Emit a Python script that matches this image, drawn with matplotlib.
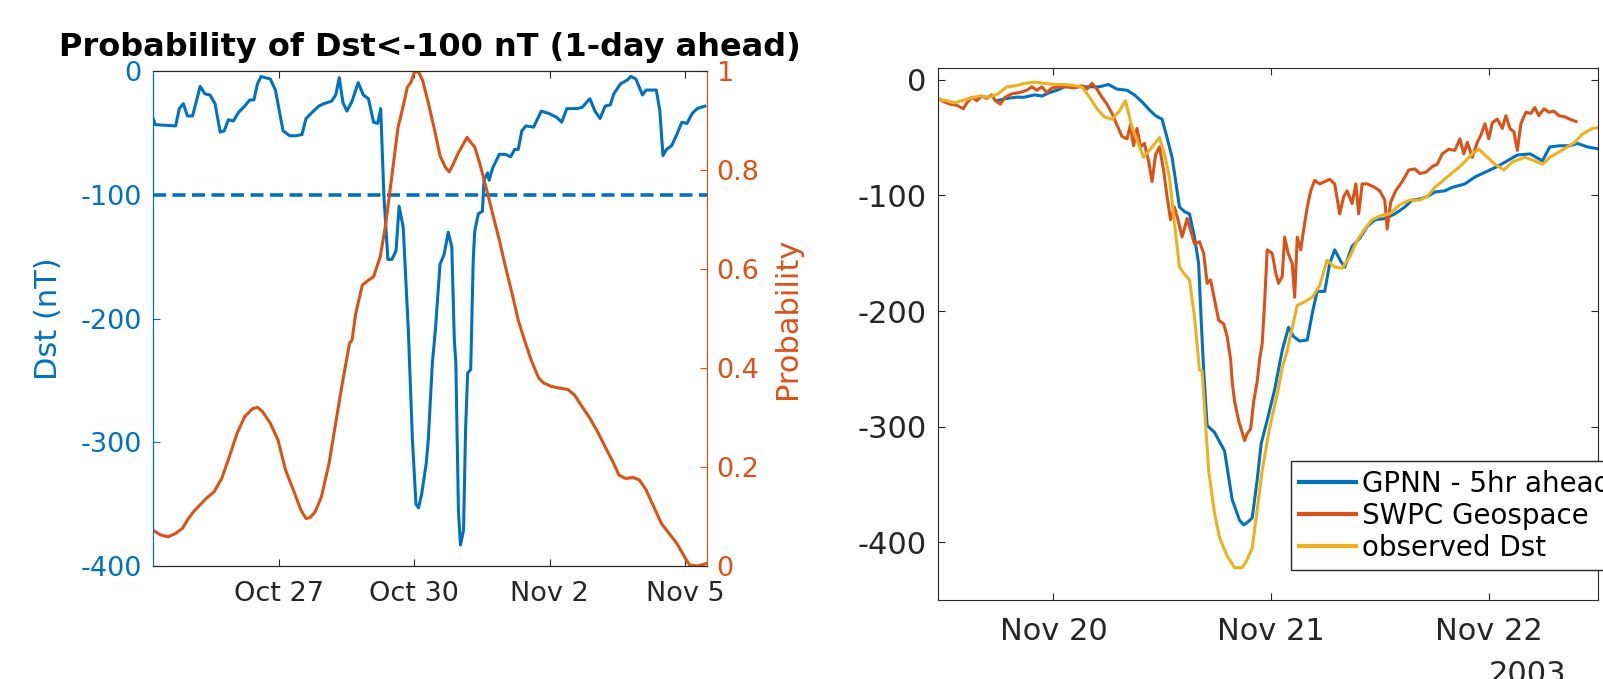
import matplotlib
matplotlib.use("Agg")
import matplotlib.pyplot as plt
import matplotlib.dates as mdates
import numpy as np
import pandas as pd

BLUE = "#0072BD"
ORANGE = "#D95319"
YELLOW = "#EDB120"
DARK = "#262626"

# left panel: Oct 24 - Nov 5 2003, times in days from Oct 27 00:00
dst_days = [-2.797, -2.741, -2.288, -2.208, -2.118, -2.027, -1.914, -1.744, -1.642, -1.529,
            -1.416, -1.302, -1.212, -1.121, -1.008, -0.895, -0.759, -0.646, -0.555, -0.476,
            -0.396, -0.306, -0.193, -0.079, 0.091, 0.238, 0.374, 0.510, 0.600, 0.736,
            0.883, 0.997, 1.166, 1.257, 1.336, 1.416, 1.506, 1.619, 1.755, 1.869,
            1.982, 2.095, 2.186, 2.254, 2.322, 2.412, 2.503, 2.593, 2.661, 2.752,
            2.865, 2.956, 3.035, 3.092, 3.160, 3.262, 3.307, 3.397, 3.465, 3.567,
            3.658, 3.749, 3.828, 3.884, 3.918, 3.975, 4.020, 4.088, 4.133, 4.179,
            4.247, 4.303, 4.337, 4.417, 4.507, 4.541, 4.621, 4.655, 4.734, 4.881,
            5.017, 5.130, 5.221, 5.300, 5.379, 5.470, 5.640, 5.810, 5.980, 6.149,
            6.263, 6.376, 6.602, 6.716, 6.886, 6.999, 7.112, 7.225, 7.339, 7.418,
            7.565, 7.712, 7.792, 7.905, 8.052, 8.131, 8.358, 8.437, 8.505, 8.584,
            8.698, 8.811, 8.924, 9.037, 9.151, 9.264, 9.434]
dst_obs = [-37, -43, -44, -30, -26, -36, -36, -12, -18, -19,
           -26, -49, -48, -39, -40, -33, -28, -23, -23, -10,
           -4, -5, -6, -15, -48, -52, -52, -51, -38, -33,
           -28, -26, -24, -19, -5, -25, -32, -24, -9, -19,
           -22, -41, -42, -30, -99, -152, -152, -145, -109, -126,
           -209, -298, -350, -353, -342, -317, -298, -236, -209, -156,
           -148, -130, -142, -217, -236, -355, -383, -371, -290, -244,
           -241, -152, -129, -115, -113, -88, -82, -88, -78, -67,
           -67, -69, -63, -63, -48, -44, -45, -32, -34, -37,
           -41, -30, -30, -29, -22, -32, -38, -28, -27, -18,
           -10, -7, -4, -6, -19, -15, -15, -32, -68, -63,
           -60, -51, -41, -42, -34, -30, -28]

prob_days = [-2.797, -2.627, -2.458, -2.288, -2.140, -2.005, -1.891, -1.755, -1.608, -1.438,
             -1.268, -1.099, -0.929, -0.759, -0.589, -0.476, -0.362, -0.193, -0.023, 0.147,
             0.317, 0.487, 0.600, 0.691, 0.804, 0.940, 1.110, 1.280, 1.416, 1.563,
             1.619, 1.699, 1.846, 1.982, 2.095, 2.242, 2.356, 2.469, 2.639, 2.729,
             2.843, 2.922, 3.001, 3.092, 3.182, 3.296, 3.431, 3.567, 3.681, 3.771,
             3.862, 3.964, 4.088, 4.168, 4.247, 4.337, 4.451, 4.587, 4.734, 4.881,
             5.017, 5.164, 5.300, 5.413, 5.583, 5.753, 5.866, 6.036, 6.263, 6.399,
             6.546, 6.716, 6.886, 7.055, 7.225, 7.395, 7.531, 7.678, 7.848, 7.984,
             8.131, 8.301, 8.471, 8.641, 8.811, 8.981, 9.094, 9.264, 9.468]
prob_vals = [0.073, 0.063, 0.059, 0.066, 0.076, 0.096, 0.110, 0.123, 0.137, 0.150,
             0.177, 0.221, 0.268, 0.302, 0.318, 0.321, 0.312, 0.289, 0.255, 0.194,
             0.154, 0.113, 0.096, 0.098, 0.110, 0.140, 0.208, 0.302, 0.376, 0.450,
             0.457, 0.510, 0.568, 0.578, 0.585, 0.625, 0.686, 0.766, 0.888, 0.921,
             0.968, 0.978, 0.999, 0.999, 0.982, 0.941, 0.888, 0.830, 0.807, 0.797,
             0.813, 0.834, 0.854, 0.867, 0.857, 0.847, 0.813, 0.766, 0.712, 0.659,
             0.605, 0.551, 0.497, 0.464, 0.417, 0.380, 0.370, 0.363, 0.359, 0.357,
             0.346, 0.322, 0.299, 0.272, 0.241, 0.211, 0.184, 0.177, 0.179, 0.174,
             0.154, 0.120, 0.086, 0.066, 0.046, 0.019, 0.002, 0.000, 0.005]

# right panel: times in days from Nov 20 2003 00:00
gpnn_days = [-0.260, -0.214, -0.168, -0.133, -0.087, -0.053, -0.018, 0.016, 0.051, 0.097,
             0.143, 0.211, 0.253, 0.292, 0.338, 0.372, 0.407, 0.441, 0.469, 0.499,
             0.522, 0.545, 0.561, 0.579, 0.602, 0.625, 0.648, 0.667, 0.678, 0.690,
             0.706, 0.740, 0.786, 0.821, 0.855, 0.874, 0.890, 0.913, 0.936, 0.954,
             0.989, 1.016, 1.051, 1.080, 1.103, 1.131, 1.166, 1.189, 1.211, 1.246,
             1.269, 1.292, 1.320, 1.338, 1.372, 1.407, 1.441, 1.476, 1.522, 1.568,
             1.614, 1.648, 1.683, 1.717, 1.752, 1.798, 1.832, 1.890, 1.936, 1.982,
             2.039, 2.085, 2.131, 2.189, 2.246, 2.280, 2.326, 2.372, 2.407, 2.453,
             2.510]
gpnn_dst = [-18, -16, -15, -15, -13, -14, -11, -9, -6, -6,
            -6, -6, -4, -8, -9, -13, -19, -26, -31, -34,
            -50, -67, -87, -110, -114, -116, -136, -159, -205, -251,
            -299, -305, -321, -363, -381, -385, -383, -379, -346, -315,
            -289, -268, -234, -214, -222, -226, -225, -202, -183, -183,
            -159, -147, -157, -162, -144, -137, -127, -121, -120, -116,
            -110, -104, -103, -101, -97, -96, -93, -90, -84, -80,
            -75, -70, -65, -64, -70, -58, -57, -57, -55, -58,
            -60]

swpc_days = [-0.531, -0.501, -0.474, -0.444, -0.414, -0.398, -0.375, -0.352, -0.329, -0.306,
             -0.283, -0.267, -0.244, -0.221, -0.191, -0.156, -0.122, -0.099, -0.076, -0.053,
             -0.030, -0.007, 0.028, 0.062, 0.097, 0.131, 0.154, 0.177, 0.200, 0.223,
             0.246, 0.269, 0.292, 0.315, 0.338, 0.354, 0.368, 0.384, 0.400, 0.418,
             0.437, 0.453, 0.469, 0.487, 0.506, 0.522, 0.538, 0.556, 0.575, 0.591,
             0.614, 0.630, 0.648, 0.671, 0.690, 0.706, 0.722, 0.740, 0.759, 0.782,
             0.798, 0.814, 0.821, 0.832, 0.851, 0.867, 0.878, 0.890, 0.906, 0.920,
             0.936, 0.947, 0.959, 0.970, 0.982, 1.005, 1.021, 1.034, 1.051, 1.062,
             1.078, 1.097, 1.108, 1.120, 1.136, 1.149, 1.166, 1.182, 1.200, 1.223,
             1.246, 1.269, 1.292, 1.315, 1.333, 1.349, 1.372, 1.389, 1.402, 1.418,
             1.441, 1.476, 1.499, 1.522, 1.533, 1.549, 1.572, 1.602, 1.632, 1.660,
             1.683, 1.710, 1.740, 1.763, 1.786, 1.816, 1.844, 1.867, 1.885, 1.901,
             1.924, 1.947, 1.963, 1.982, 2.000, 2.016, 2.039, 2.062, 2.078, 2.097,
             2.115, 2.131, 2.147, 2.170, 2.193, 2.211, 2.230, 2.253, 2.276, 2.299,
             2.322, 2.349, 2.372, 2.400]
swpc_dst = [-16, -19, -21, -22, -25, -20, -15, -18, -14, -16,
            -13, -18, -21, -15, -12, -11, -9, -6, -9, -6,
            -11, -7, -6, -6, -7, -5, -8, -3, -8, -15,
            -21, -29, -39, -49, -51, -39, -57, -42, -58, -55,
            -70, -88, -65, -58, -78, -101, -121, -110, -123, -136,
            -120, -130, -142, -140, -150, -176, -173, -190, -208, -211,
            -222, -242, -261, -278, -295, -305, -312, -306, -302, -278,
            -261, -242, -228, -193, -147, -150, -167, -176, -170, -136,
            -150, -159, -188, -136, -147, -130, -110, -96, -87, -90,
            -88, -86, -90, -116, -101, -96, -107, -90, -116, -90,
            -90, -93, -96, -104, -129, -106, -96, -88, -78, -77,
            -81, -80, -75, -73, -64, -60, -61, -51, -64, -54,
            -67, -54, -48, -38, -51, -37, -34, -42, -31, -42,
            -45, -61, -38, -28, -29, -24, -31, -25, -28, -27,
            -31, -32, -34, -36]

obs_days = [-0.531, -0.490, -0.455, -0.421, -0.386, -0.340, -0.294, -0.253, -0.214, -0.168,
            -0.133, -0.087, -0.041, 0.005, 0.051, 0.097, 0.131, 0.166, 0.200, 0.234,
            0.269, 0.299, 0.331, 0.361, 0.414, 0.453, 0.487, 0.510, 0.533, 0.556,
            0.579, 0.598, 0.625, 0.648, 0.671, 0.683, 0.713, 0.740, 0.763, 0.798,
            0.832, 0.867, 0.890, 0.913, 0.936, 0.959, 0.993, 1.028, 1.051, 1.074,
            1.120, 1.154, 1.189, 1.223, 1.257, 1.292, 1.326, 1.361, 1.395, 1.430,
            1.464, 1.510, 1.545, 1.591, 1.637, 1.683, 1.717, 1.752, 1.809, 1.867,
            1.924, 1.954, 1.982, 2.028, 2.069, 2.108, 2.166, 2.211, 2.246, 2.280,
            2.326, 2.395, 2.429, 2.476, 2.515]
obs_dst = [-17, -18, -20, -18, -16, -14, -15, -12, -6, -5,
           -3, -2, -3, -4, -4, -5, -6, -15, -25, -32,
           -34, -28, -18, -41, -67, -58, -50, -64, -84, -124,
           -162, -167, -173, -205, -251, -252, -338, -375, -396, -412,
           -422, -422, -415, -405, -372, -338, -301, -272, -249, -234,
           -195, -192, -188, -178, -156, -162, -163, -153, -139, -129,
           -121, -117, -116, -108, -104, -104, -101, -93, -84, -75,
           -64, -60, -65, -73, -78, -71, -67, -70, -73, -67,
           -62, -54, -47, -42, -41]

legend_labels = ["GPNN - 5hr ahead", "SWPC Geospace", "observed Dst"]


def to_time(base, days):
    return pd.Timestamp(base) + pd.to_timedelta(np.asarray(days), unit="D")


def date_label(x, pos=None):
    d = mdates.num2date(x)
    return f"{d:%b} {d.day}"


plt.rcParams["font.family"] = ["DejaVu Sans"]
plt.rcParams["axes.unicode_minus"] = False
fig = plt.figure(figsize=(16.03, 6.79), dpi=100)

# ---- left panel ----
ax1 = fig.add_axes([0.0954, 0.1664, 0.3456, 0.7283])
ax1.plot(to_time("2003-10-27", dst_days), dst_obs, color=BLUE, lw=2.2)
ax1.axhline(-100, color=BLUE, lw=2.6, dashes=(3.6, 1.8))
ax1.set_ylim(-400, 0)
ax1.set_yticks([-400, -300, -200, -100, 0])
ax1.set_xlim(pd.Timestamp("2003-10-24 05:00"), pd.Timestamp("2003-11-05 11:30"))
ax1.set_xticks(pd.to_datetime(["2003-10-27", "2003-10-30", "2003-11-02", "2003-11-05"]))
ax1.xaxis.set_major_formatter(plt.FuncFormatter(date_label))
ax1.set_ylabel("Dst (nT)", color=BLUE, fontsize=22)
ax1.yaxis.set_label_coords(-0.162, 0.5)
ax1.set_title("Probability of Dst<-100 nT (1-day ahead)", fontsize=23, fontweight="bold", pad=11)
ax1.tick_params(axis="x", direction="in", length=5, top=True, colors=DARK,
                labelsize=19.5, pad=11)
ax1.tick_params(axis="y", direction="in", length=5, colors=BLUE, labelsize=19.5, pad=8)
for side in ["top", "bottom"]:
    ax1.spines[side].set_color(DARK)
ax1.spines["left"].set_color(BLUE)
ax1.spines["right"].set_color(ORANGE)

ax1b = ax1.twinx()
ax1b.plot(to_time("2003-10-27", prob_days), prob_vals, color=ORANGE, lw=2.2)
ax1b.set_ylim(0, 1)
ax1b.set_yticks([0, 0.2, 0.4, 0.6, 0.8, 1])
ax1b.set_yticklabels(["0", "0.2", "0.4", "0.6", "0.8", "1"])
ax1b.set_ylabel("Probability", color=ORANGE, fontsize=22)
ax1b.yaxis.set_label_coords(1.119, 0.5)
ax1b.tick_params(axis="y", direction="in", length=5, colors=ORANGE, labelsize=19.5, pad=7)
ax1b.spines["right"].set_color(ORANGE)
ax1b.spines["left"].set_color(BLUE)
for side in ["top", "bottom"]:
    ax1b.spines[side].set_color(DARK)

# ---- right panel ----
ax2 = fig.add_axes([0.585, 0.1163, 0.4117, 0.7831])
ax2.plot(to_time("2003-11-20", gpnn_days), gpnn_dst, color=BLUE, lw=2.2, label=legend_labels[0])
ax2.plot(to_time("2003-11-20", swpc_days), swpc_dst, color=ORANGE, lw=2.2, label=legend_labels[1])
ax2.plot(to_time("2003-11-20", obs_days), obs_dst, color=YELLOW, lw=2.2, label=legend_labels[2])
ax2.set_ylim(-450, 10)
ax2.set_yticks([-400, -300, -200, -100, 0])
ax2.set_xlim(pd.Timestamp("2003-11-19 11:15"), pd.Timestamp("2003-11-22 12:00"))
ax2.set_xticks(pd.to_datetime(["2003-11-20", "2003-11-21", "2003-11-22"]))
ax2.xaxis.set_major_formatter(plt.FuncFormatter(date_label))
ax2.tick_params(direction="in", length=5, top=True, right=True, colors=DARK, labelsize=22)
ax2.tick_params(axis="x", pad=12)
ax2.tick_params(axis="y", pad=8)
for sp in ax2.spines.values():
    sp.set_color(DARK)
ax2.text(0.894, -0.112, "2003", transform=ax2.transAxes, ha="center", va="top",
         fontsize=22, color=DARK)

leg = ax2.legend(loc="lower left", bbox_to_anchor=(0.535, 0.056), borderaxespad=0,
                 fontsize=20, fancybox=False, framealpha=1, edgecolor=DARK,
                 borderpad=0.3, labelspacing=0.15, handlelength=2.05, handletextpad=0.2)
leg.get_frame().set_linewidth(1.0)
for line in leg.get_lines():
    line.set_linewidth(3)

fig.savefig("out.png", dpi=100)
